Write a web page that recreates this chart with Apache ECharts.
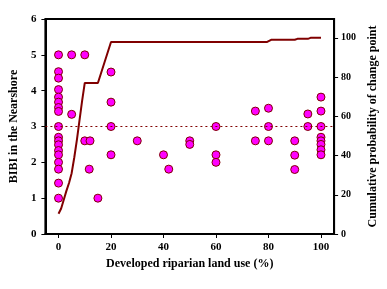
<!DOCTYPE html>
<html><head><meta charset="utf-8">
<script src="https://cdn.jsdelivr.net/npm/echarts@6/dist/echarts.min.js"></script>
<style>html,body{margin:0;padding:0;background:#fff}#c{width:387px;height:289px}</style>
</head><body><div id="c"></div>
<script>
// Observed data (developed riparian land use %, BIBI)
const landUse = [0,0,0,0,0,0,0,0,0,0,0,0,0,0,0,0,0,0,
  5,5, 10,10, 12, 11.7, 15, 20,20,20,20, 30, 40, 42, 50,50, 60,60,60,
  75,75, 80,80,80, 90,90,90, 95,95, 100,100,100,100,100,100,100,100];
const bibi = [5.0,4.53,4.35,4.03,3.82,3.68,3.53,3.42,3.0,2.70,2.60,2.49,2.33,2.21,2.0,1.81,1.42,1.0,
  5.0,3.34, 5.0,2.6, 2.6, 1.81, 1.0, 4.52,3.68,3.0,2.21, 2.6, 2.21, 1.81, 2.6,2.5, 3.0,2.21,2.0,
  3.43,2.6, 3.51,3.0,2.6, 2.6,2.2,1.8, 3.35,3.0, 3.82,3.43,3.0,2.70,2.60,2.50,2.35,2.21];
// Cumulative probability of change point
const cpX =    [0,  1,  2,  3,  4,  5,  6,  7,  8,  9, 10, 15, 20, 79.5, 81, 90, 91, 95, 96, 100];
const cpProb = [10.3,13,17.5,22,26,31,39,48,58,68,77,77,97.9,97.9,99.0,99.0,99.5,99.5,100,100];
const xTicks = [0,20,40,60,80,100];
const yTicks = [0,1,2,3,4,5,6];
const probTicks = [0,20,40,60,80,100];
const threshold = 3;

const font = '"Liberation Serif", "Times New Roman", serif';
const chart = echarts.init(document.getElementById('c'), null, {renderer:'canvas'});
chart.setOption({
  animation:false,
  backgroundColor:'#fff',
  grid:{left:29, top:19, width:309, height:215, show:true, borderColor:'#000', borderWidth:2, backgroundColor:'transparent'},
  xAxis:{
    type:'value', min:-5, max:105,
    name:'Developed riparian land use (%)', nameLocation:'middle', nameGap:22,
    nameTextStyle:{fontFamily:font, fontWeight:'bold', fontSize:12, color:'#000'},
    axisLine:{show:true, onZero:false, lineStyle:{color:'#000', width:2}},
    axisTick:{show:true, length:4, lineStyle:{color:'#000', width:1}, customValues:xTicks},
    axisLabel:{customValues:xTicks, fontFamily:font, fontWeight:'bold', fontSize:11, color:'#000', margin:8},
    splitLine:{show:false}
  },
  yAxis:[{
    type:'value', min:0, max:6, interval:1, position:'left',
    name:'BIBI in the Nearshore', nameLocation:'middle', nameGap:18, nameRotate:90,
    nameTextStyle:{fontFamily:font, fontWeight:'bold', fontSize:12, color:'#000'},
    axisLine:{show:true, onZero:false, lineStyle:{color:'#000', width:2}},
    axisTick:{show:true, length:4, lineStyle:{color:'#000', width:1}},
    axisLabel:{fontFamily:font, fontWeight:'bold', fontSize:11, color:'#000', margin:9},
    splitLine:{show:false}
  },{
    type:'value', min:0, max:109.6, position:'right',
    name:'Cumulative probability of change point', nameLocation:'middle', nameGap:25, nameRotate:90,
    nameTextStyle:{fontFamily:font, fontWeight:'bold', fontSize:12, color:'#000'},
    axisLine:{show:true, onZero:false, lineStyle:{color:'#000', width:2}},
    axisTick:{show:true, length:4, lineStyle:{color:'#000', width:1}, customValues:probTicks},
    axisLabel:{customValues:probTicks, fontFamily:font, fontWeight:'bold', fontSize:10, color:'#000', margin:7},
    splitLine:{show:false}
  }],
  series:[{
    type:'line', yAxisIndex:1, data:cpX.map((x,i)=>[x,cpProb[i]]),
    showSymbol:false, lineStyle:{color:'#800000', width:2}, z:2, silent:true
  },{
    type:'scatter', yAxisIndex:0, data:landUse.map((x,i)=>[x,bibi[i]]),
    symbol:'circle', symbolSize:8,
    itemStyle:{color:'#FF00FF', borderColor:'#800000', borderWidth:1, opacity:1},
    z:3,
    markLine:{silent:true, symbol:['none','none'], label:{show:false},
      lineStyle:{color:'#800000', type:[2,3], width:1},
      data:[{yAxis:threshold}]}
  }]
});
</script></body></html>
